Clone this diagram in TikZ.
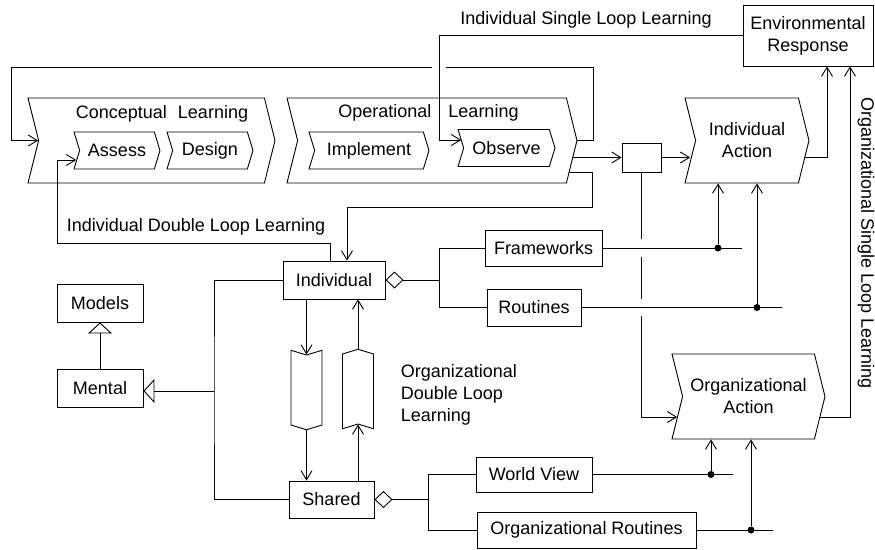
\documentclass[tikz,border=0pt]{standalone}
\usepackage{fontspec}
\setmainfont{Liberation Sans}
\usetikzlibrary{arrows.meta,shapes.symbols,positioning,calc}

\begin{document}
\begin{tikzpicture}[
    x=1pt, y=1pt,
    >={Straight Barb[length=9pt,width=11pt]},
    line width=0.9pt,
    every node/.style={font=\fontsize{18}{22}\selectfont},
    box/.style={draw, rectangle, inner sep=0pt, align=center},
    stage/.style={draw, signal, signal from=west, signal to=east, signal pointer angle=152, inner sep=0pt, align=center},
    substage/.style={stage, signal pointer angle=146, minimum height=37pt},
    pipe/.style={draw, signal, signal pointer angle=146, inner sep=0pt, minimum width=31pt, minimum height=70pt},
    dot/.style={circle, fill, inner sep=0pt, minimum size=7pt},
    agg/.style={{Diamond[open,length=18pt,width=17pt]}-},
    gen/.style={-{Triangle[open,length=11pt,width=24pt]}}
]
    \useasboundingbox (0,0) rectangle (875,-549);

    % learning stages
    \node[stage, minimum width=247pt, minimum height=85pt] (concl) at (151.5,-140.5) {};
    \node[stage, minimum width=290pt, minimum height=85pt] (oper) at (432,-140.5) {};
    \node (concltitle) at (162,-114) {Conceptual\hspace{11pt}Learning};
    \node (opertitle) at (428.5,-113) {Operational\hspace{17pt}Learning};
    \node[substage, minimum width=86pt] (assess) at (117,-150.5) {Assess};
    \node[substage, minimum width=86pt] (design) at (210,-150.5) {Design};
    \node[substage, minimum width=120pt] (implement) at (369,-150.5) {Implement};
    \node[substage, minimum width=97pt] (observe) at (506.5,-148) {Observe};

    % actions and response
    \node[box, minimum width=39pt, minimum height=29pt] (gate) at (641.5,-157.5) {};
    \node[stage, minimum width=124pt, minimum height=85pt] (indact) at (747,-140.5) {Individual\\Action};
    \node[stage, minimum width=153pt, minimum height=85pt] (orgact) at (748.5,-396.5) {Organizational\\Action};
    \node[box, minimum width=130pt, minimum height=61pt] (envresp) at (808,-35.5) {Environmental\\Response};

    % mental models
    \node[box, minimum width=102pt, minimum height=38pt] (indiv) at (334,-280) {Individual};
    \node[box, minimum width=85pt, minimum height=37pt] (shared) at (331.5,-499.5) {Shared};
    \node[box, minimum width=117pt, minimum height=36pt] (frameworks) at (543.5,-248) {Frameworks};
    \node[box, minimum width=94pt, minimum height=37pt] (routines) at (534,-307.5) {Routines};
    \node[box, minimum width=116pt, minimum height=35pt] (worldview) at (534,-474.5) {World View};
    \node[box, minimum width=219pt, minimum height=36pt] (orgroutines) at (586.5,-530) {Organizational Routines};
    \node[box, minimum width=86pt, minimum height=38pt] (models) at (100,-303) {Models};
    \node[box, minimum width=86pt, minimum height=38pt] (mental) at (100,-388) {Mental};
    \node[pipe, signal from=north, signal to=south] (sharein) at (306.5,-390) {};
    \node[pipe, signal from=south, signal to=north] (shareout) at (358,-389) {};

    % loop labels
    \node (isll) at (586,-20) {Individual Single Loop Learning};
    \node (idll) at (196,-227) {Individual Double Loop Learning};
    \node[align=left, anchor=west] (odll) at (397,-395) {Organizational\\Double Loop\\Learning};
    \node[rotate=-90] (osll) at (866,-243) {Organizational Single Loop Learning};

    % loops
    \coordinate (islx) at (439,-37);
    \draw[->] (oper.east) -| (593,-67) -- (446,-67) ++(-14,0) -- (11,-67) |- (concl.west);
    \draw[->] (envresp.west) -- (envresp.west -| islx) |- ([xshift=-2pt,yshift=8pt]observe.west);
    \draw[->] (gate.west -| oper.east) ++(-4,0) -- (gate.west);
    \draw[->] (gate.east) -- ([xshift=-5pt]gate.east -| indact.west);
    \draw[->] (oper.east) ++(-8,-32) -| (592,-207) -| ([xshift=13pt]indiv.north);
    \draw[->] ([xshift=-4pt]indiv.north) |- (57,-243) |- ([xshift=-3pt,yshift=-9.5pt]assess.west);
    \draw[->] (indact.east) ++(-4,-17) -| ([xshift=19pt]envresp.south);
    \draw[->] (orgact.east) ++(-5,-20.5) -| ([xshift=42pt]envresp.south);

    % frameworks and routines feed the actions
    \draw (frameworks.east) -- ++(140,0);
    \node[dot] (fwdot) at ([xshift=-29pt]indact.south |- frameworks.east) {};
    \draw[->] (fwdot) -- (fwdot |- indact.south);
    \draw (routines.east) -- ++(201,0);
    \node[dot] (rtdot) at ([xshift=10pt]indact.south |- routines.east) {};
    \draw[->] (rtdot) -- (rtdot |- indact.south);
    \draw (worldview.east) -- ++(141,0);
    \node[dot] (wvdot) at ([xshift=-37.5pt]orgact.south |- worldview.east) {};
    \draw[->] (wvdot) -- (wvdot |- orgact.south);
    \draw (orgroutines.east) -- ++(77,0);
    \node[dot] (ordot) at ([xshift=2.5pt]orgact.south |- orgroutines.east) {};
    \draw[->] (ordot) -- (ordot |- orgact.south);

    \draw[->] (gate.south) -- ([yshift=9pt]gate.south |- frameworks.east) ++(0,-18)
        -- ([yshift=8.5pt]gate.south |- routines.east) ++(0,-17)
        |- ([xshift=-5pt,yshift=-20.5pt]orgact.west);

    % aggregation
    \draw[agg] (indiv.east) -- ++(54,0) coordinate (indj);
    \draw (frameworks.west) -| (indj) |- (routines.west);
    \draw[agg] (shared.east) -- ++(54,0) coordinate (shj);
    \draw (worldview.west) -| (shj) |- (orgroutines.west);

    % generalisation
    \coordinate (bus) at (214,-391);
    \draw (indiv.west) -| (bus) |- (shared.west);
    \draw[gen] (bus) -- (bus -| mental.east);
    \draw[gen] (mental) -- (models);

    \draw[->] (indiv.south -| sharein.north) -- (sharein.north);
    \draw[->] (sharein.south) -- (sharein.south |- shared.north);
    \draw[->] (shared.north -| shareout.south) -- (shareout.south);
    \draw[->] (shareout.north) -- (shareout.north |- indiv.south);

\end{tikzpicture}
\end{document}
